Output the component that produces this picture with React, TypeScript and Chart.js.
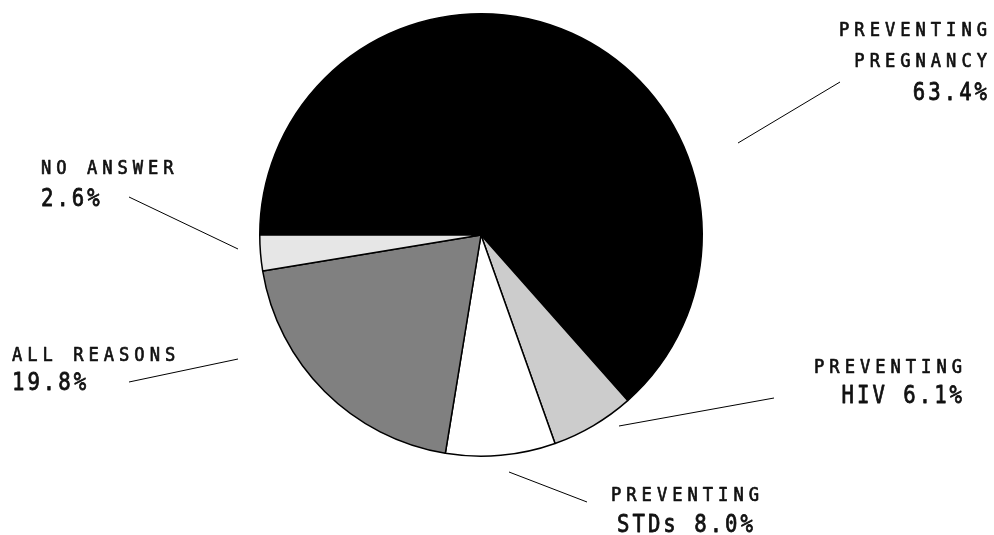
import React, { useEffect, useRef } from "react";
import { Chart, registerables } from "chart.js";

Chart.register(...registerables);

// Slice data, in drawing order (clockwise from 9 o'clock)
const categories = [
  "Preventing pregnancy",
  "Preventing HIV",
  "Preventing STDs",
  "All reasons",
  "No answer",
];
const shares = [63.4, 6.1, 8.0, 19.8, 2.6];
// Small upper lines of each callout
const headLines = [
  ["PREVENTING", "PREGNANCY"],
  ["PREVENTING"],
  ["PREVENTING"],
  ["ALL REASONS"],
  ["NO ANSWER"],
];
// Text placed before the percentage on the large line
const valuePrefix = ["", "HIV ", "STDs ", "", ""];
const sliceColors = ["#000000", "#cccccc", "#ffffff", "#808080", "#e6e6e6"];

// Callout placement: anchor x, alignment, baselines of each line, leader line
type Callout = {
  x: number;
  align: "left" | "right" | "center";
  baselines: number[];
  leader: [number, number, number, number];
};
const callouts: Callout[] = [
  { x: 987, align: "right", baselines: [36, 67, 100], leader: [738, 143, 840, 82] },
  { x: 962, align: "right", baselines: [373, 403], leader: [619, 426, 774, 398] },
  { x: 685, align: "center", baselines: [501, 532], leader: [509, 472, 587, 502] },
  { x: 12, align: "left", baselines: [361, 390], leader: [129, 382, 238, 359] },
  { x: 41, align: "left", baselines: [174, 206], leader: [129, 197, 238, 249] },
];

const FONT = "'DejaVu Sans Mono', monospace";
// size in px, gap between letters in px, horizontal squeeze of the glyphs, extra stroke
const SMALL = { size: 19, spacing: 5, squeeze: 0.9, stroke: 0.7 };
const LARGE = { size: 24, spacing: 3, squeeze: 0.86, stroke: 0.8 };

type TextStyle = typeof SMALL;

function drawSpaced(
  ctx: CanvasRenderingContext2D,
  text: string,
  x: number,
  y: number,
  align: "left" | "right" | "center",
  st: TextStyle
) {
  ctx.save();
  ctx.font = `${st.size}px ${FONT}`;
  const ls = st.spacing / st.squeeze;
  (ctx as any).letterSpacing = `${ls}px`;
  ctx.textAlign = "left";
  ctx.textBaseline = "alphabetic";
  const w = (ctx.measureText(text).width - ls) * st.squeeze;
  let left = x;
  if (align === "right") left = x - w;
  else if (align === "center") left = x - w / 2;
  ctx.translate(left, y);
  ctx.scale(st.squeeze, 1);
  ctx.fillStyle = "#111";
  ctx.strokeStyle = "#111";
  ctx.lineWidth = st.stroke;
  ctx.lineJoin = "round";
  ctx.fillText(text, 0, 0);
  ctx.strokeText(text, 0, 0);
  (ctx as any).letterSpacing = "0px";
  ctx.restore();
}

const calloutPlugin = {
  id: "callouts",
  afterDraw(chart: Chart) {
    const ctx = chart.ctx;
    ctx.save();
    callouts.forEach((c, i) => {
      const [x1, y1, x2, y2] = c.leader;
      ctx.beginPath();
      ctx.moveTo(x1, y1);
      ctx.lineTo(x2, y2);
      ctx.strokeStyle = "#000";
      ctx.lineWidth = 1;
      ctx.stroke();

      const heads = headLines[i];
      heads.forEach((t, k) => {
        drawSpaced(ctx, t, c.x, c.baselines[k], c.align, SMALL);
      });
      const big = `${valuePrefix[i]}${shares[i].toFixed(1)}%`;
      drawSpaced(ctx, big, c.x, c.baselines[heads.length], c.align, LARGE);
    });
    ctx.restore();
  },
};

export default function App() {
  const canvasRef = useRef<HTMLCanvasElement | null>(null);

  useEffect(() => {
    document.body.style.margin = "0";
    const canvas = canvasRef.current;
    if (!canvas) return;
    const chart = new Chart(canvas, {
      type: "pie",
      data: {
        labels: categories,
        datasets: [
          {
            data: shares,
            backgroundColor: sliceColors,
            borderColor: "#000000",
            borderWidth: 1.5,
          },
        ],
      },
      options: {
        responsive: false,
        animation: false,
        rotation: -90,
        layout: { padding: { left: 259, right: 291, top: 13, bottom: 78 } },
        plugins: {
          legend: { display: false },
          tooltip: { enabled: false },
        },
      },
      plugins: [calloutPlugin],
    });
    return () => chart.destroy();
  }, []);

  return (
    <div style={{ position: "absolute", left: 0, top: 0, width: 994, height: 535, background: "#fff" }}>
      <canvas ref={canvasRef} width={994} height={535} />
    </div>
  );
}
